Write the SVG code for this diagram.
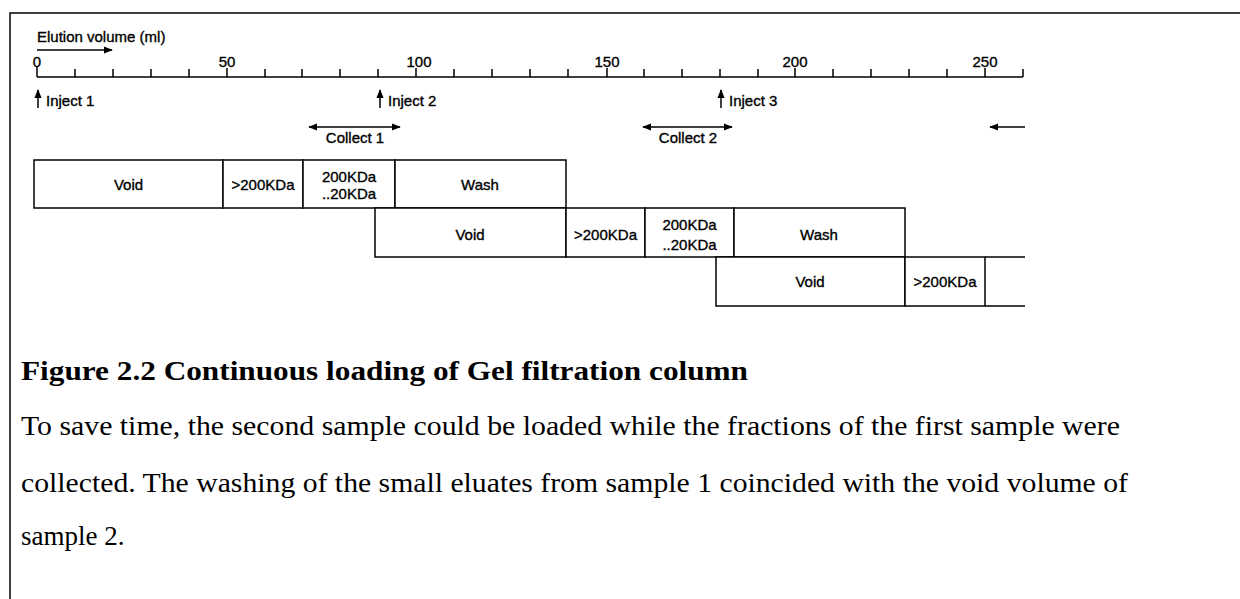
<svg xmlns="http://www.w3.org/2000/svg" width="1240" height="599" viewBox="0 0 1240 599">
<defs>
<style>
.ln{stroke:#000;stroke-width:1.5;fill:none}
.box{stroke:#000;stroke-width:1.5;fill:#fff}
.sm{font-family:"Liberation Sans",Arial,sans-serif;font-size:15px;fill:#000;stroke:#000;stroke-width:0.35}
.ax{font-family:"Liberation Sans",Arial,sans-serif;font-size:15px;fill:#000;stroke:#000;stroke-width:0.35;text-anchor:middle}
.bl{font-family:"Liberation Sans",Arial,sans-serif;font-size:15px;fill:#000;stroke:#000;stroke-width:0.35;text-anchor:middle}
.cap{font-family:"Liberation Serif","Times New Roman",serif;font-size:27px;fill:#000}
</style>
<marker id="ah" viewBox="0 0 10 10" refX="9" refY="5" markerWidth="9" markerHeight="9" markerUnits="userSpaceOnUse" orient="auto-start-reverse">
<path d="M0,1 L10,5 L0,9 Z" fill="#000"/>
</marker>
</defs>
<rect width="1240" height="599" fill="#fff"/>
<!-- frame -->
<path class="ln" d="M10,599 L10,13 L1240,13"/>

<!-- axis -->
<g id="axis">
<text class="sm" x="37" y="42">Elution volume (ml)</text>
<line class="ln" x1="37" y1="50" x2="112" y2="50" marker-end="url(#ah)"/>
<path class="ln" d="M37,77 L1023,77 M37,67 V77 M75,69 V77 M113,69 V77 M151,69 V77 M189,69 V77 M227,68 V77 M265,69 V77 M302,69 V77 M340,69 V77 M378,69 V77 M416,68 V77 M454,69 V77 M492,69 V77 M530,69 V77 M568,69 V77 M607,68 V77 M644,69 V77 M682,69 V77 M720,69 V77 M758,69 V77 M795,68 V77 M833,69 V77 M871,69 V77 M909,69 V77 M947,69 V77 M985,68 V77 M1023,69 V77"/>
<text class="ax" x="37" y="67">0</text>
<text class="ax" x="227" y="67">50</text>
<text class="ax" x="419" y="67">100</text>
<text class="ax" x="607" y="67">150</text>
<text class="ax" x="795" y="67">200</text>
<text class="ax" x="985" y="67">250</text>
</g>

<!-- connectors -->
<g id="connectors">
<line class="ln" x1="38" y1="108" x2="38" y2="90" marker-end="url(#ah)"/>
<line class="ln" x1="380" y1="108" x2="380" y2="90" marker-end="url(#ah)"/>
<line class="ln" x1="721" y1="108" x2="721" y2="90" marker-end="url(#ah)"/>
<line class="ln" x1="309" y1="127" x2="400" y2="127" marker-start="url(#ah)" marker-end="url(#ah)"/>
<line class="ln" x1="643" y1="127" x2="732" y2="127" marker-start="url(#ah)" marker-end="url(#ah)"/>
<line class="ln" x1="1025" y1="127" x2="990" y2="127" marker-end="url(#ah)"/>
</g>

<g id="inject1"><text class="sm" x="46" y="106">Inject 1</text></g>
<g id="inject2"><text class="sm" x="388" y="106">Inject 2</text></g>
<g id="inject3"><text class="sm" x="729" y="106">Inject 3</text></g>
<g id="collect1"><text class="sm" x="355" y="143" text-anchor="middle">Collect 1</text></g>
<g id="collect2"><text class="sm" x="688" y="143" text-anchor="middle">Collect 2</text></g>

<!-- row 1 -->
<g id="row1-void"><rect class="box" x="34" y="160" width="189" height="48"/><text class="bl" x="128.5" y="190">Void</text></g>
<g id="row1-gt200"><rect class="box" x="223" y="160" width="80" height="48"/><text class="bl" x="263" y="190">&gt;200KDa</text></g>
<g id="row1-mid"><rect class="box" x="303" y="160" width="92" height="48"/><text class="bl" x="349" y="182">200KDa</text><text class="bl" x="349" y="199">..20KDa</text></g>
<g id="row1-wash"><rect class="box" x="395" y="160" width="171" height="48"/><text class="bl" x="480" y="190">Wash</text></g>

<!-- row 2 -->
<g id="row2-void"><rect class="box" x="375" y="208" width="191" height="49"/><text class="bl" x="470" y="240">Void</text></g>
<g id="row2-gt200"><rect class="box" x="566" y="208" width="79" height="49"/><text class="bl" x="605.5" y="240">&gt;200KDa</text></g>
<g id="row2-mid"><rect class="box" x="645" y="208" width="89" height="49"/><text class="bl" x="689.5" y="230">200KDa</text><text class="bl" x="689.5" y="250">..20KDa</text></g>
<g id="row2-wash"><rect class="box" x="734" y="208" width="171" height="49"/><text class="bl" x="819" y="240">Wash</text></g>

<!-- row 3 -->
<g id="row3-void"><rect class="box" x="716" y="257" width="189" height="49"/><text class="bl" x="810" y="287">Void</text></g>
<g id="row3-gt200"><rect class="box" x="905" y="257" width="80" height="49"/><text class="bl" x="945" y="287">&gt;200KDa</text></g>
<g id="row3-open"><path class="ln" d="M985,257 H1025 M985,306 H1025"/></g>

<!-- caption -->
<g id="caption">
<text class="cap" x="21" y="380" font-weight="bold" font-size="28" textLength="727" lengthAdjust="spacingAndGlyphs">Figure 2.2 Continuous loading of Gel filtration column</text>
<text class="cap" x="21" y="435" textLength="1099" lengthAdjust="spacingAndGlyphs">To save time, the second sample could be loaded while the fractions of the first sample were</text>
<text class="cap" x="21" y="492" textLength="1107" lengthAdjust="spacingAndGlyphs">collected. The washing of the small eluates from sample 1 coincided with the void volume of</text>
<text class="cap" x="21" y="545">sample 2.</text>
</g>
</svg>
